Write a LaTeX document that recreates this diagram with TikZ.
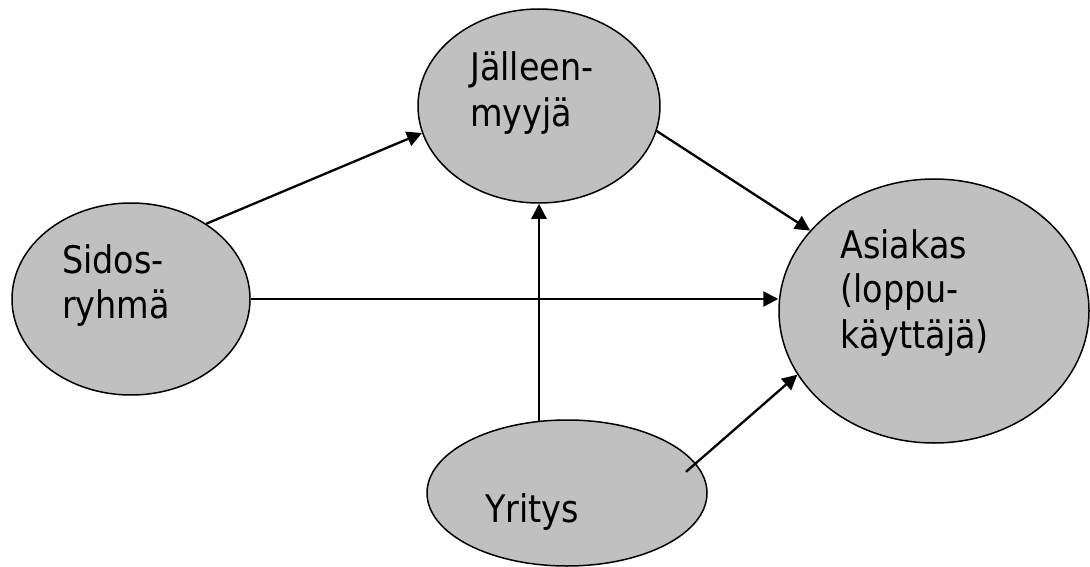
\documentclass[tikz,border=0pt]{standalone}
\usepackage{fontspec}
\setmainfont[FakeStretch=0.88]{DejaVu Sans}
\usetikzlibrary{arrows.meta,shapes.geometric}
\definecolor{bubblegray}{HTML}{C0C0C0}
\begin{document}
\begin{tikzpicture}[x=1pt,y=-1pt,
  bubble/.style={ellipse, draw=black, line width=1.5pt, fill=bubblegray, inner sep=0pt},
  lbl/.style={anchor=base west, inner sep=0pt, font=\fontsize{38}{45}\selectfont},
  conn/.style={line width=2.3pt, -{Triangle[length=15pt,width=15pt]}}]
\useasboundingbox (0,0) rectangle (1090,567);
\node[bubble, minimum width=242pt, minimum height=194pt] (jal) at (539,106) {};
\node[bubble, minimum width=238pt, minimum height=192pt] (sid) at (131,299) {};
\node[bubble, minimum width=310pt, minimum height=264pt] (asi) at (934,311) {};
\node[bubble, minimum width=280pt, minimum height=146pt] (yri) at (567,493) {};
\node[lbl] (jal1) at (470,81) {Jälleen-};
\node[lbl] (jal2) at (470,127) {myyjä};
\node[lbl] (sid1) at (62,273) {Sidos-};
\node[lbl] (sid2) at (62,318) {ryhmä};
\node[lbl] (asi1) at (840,258) {Asiakas};
\node[lbl] (asi2) at (840,302) {(loppu-};
\node[lbl] (asi3) at (840,348) {käyttäjä)};
\node[lbl] (yri1) at (485,522) {Yritys};
\draw[conn] (sid.45) -- (jal.193);
\draw[conn] (sid.east) -- (sid.east -| asi.west);
\draw[conn] (jal.-12) -- (asi.147);
\draw[conn, shorten <=-2pt] (jal.south |- yri.north) -- (jal.south);
\draw[conn, shorten <=-13pt] (yri.13) -- (asi.205);
\end{tikzpicture}
\end{document}
